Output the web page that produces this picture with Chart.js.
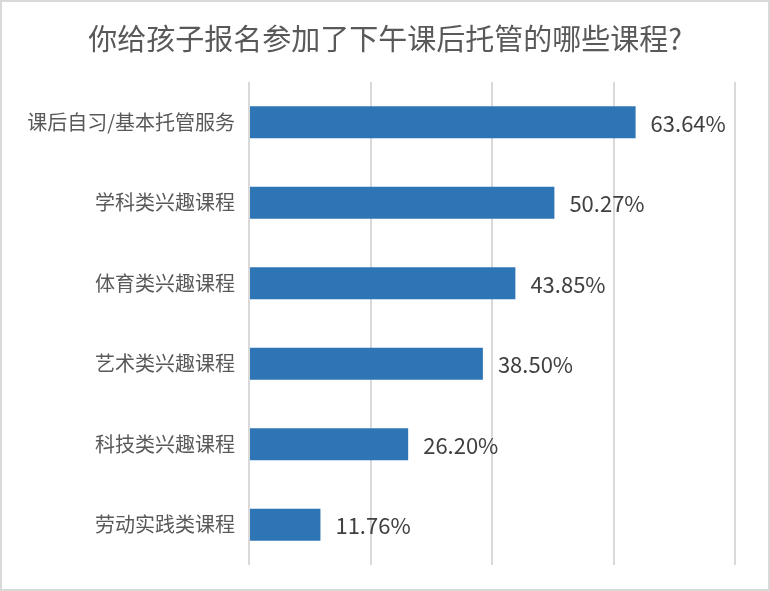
<!DOCTYPE html>
<html>
<head>
<meta charset="utf-8">
<script src="https://cdn.jsdelivr.net/npm/chart.js@4"></script>
<style>
  body { margin: 0; background: #fff; }
  #wrap { width: 770px; height: 591px; }
</style>
</head>
<body>
<div id="wrap"><canvas id="myChart" width="770" height="591"></canvas></div>
<script>
const title = '你给孩子报名参加了下午课后托管的哪些课程?';
const categories = ['课后自习/基本托管服务', '学科类兴趣课程', '体育类兴趣课程', '艺术类兴趣课程', '科技类兴趣课程', '劳动实践类课程'];
const values = [63.64, 50.27, 43.85, 38.50, 26.20, 11.76];
const xTicks = [0, 20, 40, 60, 80];

const font = '"Noto Sans CJK SC", "Noto Sans", sans-serif';

// value labels at bar ends
const barLabels = {
    id: 'barLabels',
    afterDatasetsDraw(chart) {
        const c = chart.ctx;
        const meta = chart.getDatasetMeta(0);
        c.save();
        c.font = '22px ' + font;
        c.fillStyle = '#404040';
        c.textAlign = 'left';
        c.textBaseline = 'middle';
        meta.data.forEach((bar, i) => {
            c.fillText(values[i].toFixed(2) + '%', bar.x + 15, bar.y + 1);
        });
        c.restore();
    }
};

// title centred on whole canvas + outer frame
const frame = {
    id: 'frame',
    afterDraw(chart) {
        const c = chart.ctx;
        c.save();
        c.font = '29px ' + font;
        c.fillStyle = '#595959';
        c.textAlign = 'center';
        c.textBaseline = 'middle';
        c.fillText(title, chart.width / 2, 39);
        c.strokeStyle = '#d9d9d9';
        c.lineWidth = 2;
        c.strokeRect(1, 1, chart.width - 2, chart.height - 2);
        c.restore();
    }
};

const ctx = document.getElementById('myChart');
const myChart = new Chart(ctx, {
    type: 'bar',
    data: {
        labels: categories,
        datasets: [{
            data: values,
            backgroundColor: '#2e75b6',
            barPercentage: 0.4,
            categoryPercentage: 1
        }]
    },
    plugins: [barLabels, frame],
    options: {
        indexAxis: 'y',
        responsive: false,
        animation: false,
        layout: { padding: { top: 82, right: 35, bottom: 25, left: 0 } },
        plugins: {
            legend: { display: false },
            tooltip: { enabled: false },
            title: { display: false }
        },
        scales: {
            x: {
                min: xTicks[0],
                max: xTicks[xTicks.length - 1],
                afterBuildTicks(scale) {
                    scale.ticks = xTicks.map(v => ({ value: v }));
                },
                ticks: { display: false },
                border: { display: false },
                grid: { color: '#d9d9d9', lineWidth: 2, drawTicks: false }
            },
            y: {
                afterFit(scale) { scale.width = 249; },
                ticks: {
                    color: '#595959',
                    font: { family: font, size: 20 },
                    padding: 14
                },
                border: { display: false },
                grid: { display: false, drawTicks: false }
            }
        }
    }
});
</script>
</body>
</html>
